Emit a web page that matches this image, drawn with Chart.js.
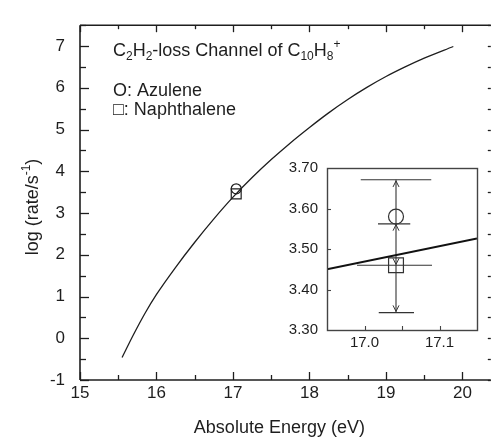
<!DOCTYPE html>
<html><head><meta charset="utf-8">
<script src="https://cdn.jsdelivr.net/npm/chart.js@4"></script>
<style>
html,body{margin:0;padding:0;background:#fff;}
#wrap{position:relative;width:499px;height:442px;overflow:hidden;}
#main{position:absolute;left:0;top:0;}
#inset{position:absolute;left:270px;top:150px;}
</style></head><body>
<div id="wrap"><canvas id="main" width="499" height="442"></canvas><canvas id="inset" width="220" height="210"></canvas></div>
<script>
// ---------- data ----------
const curveEnergy  = [15.55, 15.70, 15.85, 16.00, 16.25, 16.50, 16.75, 17.00, 17.25, 17.50, 17.75, 18.00, 18.25, 18.50, 18.75, 19.00, 19.25, 19.50, 19.88];
const curveLogRate = [-0.46, 0.09, 0.60, 1.05, 1.70, 2.30, 2.86, 3.38, 3.85, 4.28, 4.68, 5.05, 5.40, 5.72, 6.01, 6.27, 6.50, 6.71, 6.99];
const azuleneEnergy = [17.042];
const azuleneLogRate = [3.58];
const naphthaleneEnergy = [17.042];
const naphthaleneLogRate = [3.46];
const xTickValues = [15, 16, 17, 18, 19, 20];
const xTickLabels = ['15', '16', '17', '18', '19', '20'];
const yTickValues = [-1, 0, 1, 2, 3, 4, 5, 6, 7];
const yTickLabels = ['-1', '0', '1', '2', '3', '4', '5', '6', '7'];

// inset
const insetCurveEnergy = [16.95, 17.15];
const insetCurveLogRate = [3.450, 3.526];
const errorEnergy = [17.042];
const errorSpan = [3.343, 3.671];
const capLevels = [3.671, 3.562, 3.460, 3.343];
const capLeft   = [16.995, 17.018, 16.990, 17.019];
const capRight  = [17.089, 17.061, 17.090, 17.066];
const arrowTips = [3.668, 3.560, 3.462, 3.346];
const arrowDirs = ['up', 'up', 'down', 'down'];
const insetXTickValues = [17.0, 17.1];
const insetXTickLabels = ['17.0', '17.1'];
const insetYTickValues = [3.30, 3.40, 3.50, 3.60, 3.70];
const insetYTickLabels = ['3.30', '3.40', '3.50', '3.60', '3.70'];

const INK = '#1e1e1e';
const FONT = '"Liberation Sans", Arial, Helvetica, sans-serif';
Chart.defaults.font.family = FONT;
Chart.defaults.color = INK;

// rich text helper (sub/superscripts)
function richText(ctx, x, y, parts, size, align) {
  const fontFor = p => ((p.sub || p.sup) ? Math.round(size * 0.68) : size) + 'px ' + FONT;
  let total = 0;
  parts.forEach(p => { ctx.font = fontFor(p); total += ctx.measureText(p.t).width; });
  let cx = align === 'center' ? x - total / 2 : x;
  ctx.textBaseline = 'alphabetic';
  ctx.textAlign = 'left';
  parts.forEach(p => {
    ctx.font = fontFor(p);
    const dy = p.sub ? size * 0.22 : (p.sup ? -size * 0.42 : 0);
    ctx.fillText(p.t, cx, y + dy);
    cx += ctx.measureText(p.t).width;
  });
}
function seg(ctx, x0, y0, x1, y1) { ctx.beginPath(); ctx.moveTo(x0, y0); ctx.lineTo(x1, y1); ctx.stroke(); }

const mainDecor = {
  id: 'mainDecor',
  afterDraw(chart) {
    const ctx = chart.ctx, a = chart.chartArea, xs = chart.scales.x, ys = chart.scales.y;
    ctx.save();
    ctx.strokeStyle = INK;
    ctx.lineWidth = 1.6;
    seg(ctx, a.left, a.top, a.right, a.top);
    seg(ctx, a.left, a.top, a.left, a.bottom);
    seg(ctx, a.left, a.bottom, a.right, a.bottom);
    ctx.lineWidth = 1.3;
    for (let v = xs.min; v <= xs.max + 1e-9; v += 0.5) {
      const px = Math.round(xs.getPixelForValue(v)) + 0.5;
      const major = Math.abs(v - Math.round(v)) < 1e-6;
      seg(ctx, px, a.bottom, px, a.bottom - (major ? 8 : 5));
      seg(ctx, px, a.top, px, a.top + (major ? 7 : 4));
    }
    for (let v = ys.min; v <= ys.max + 1e-9; v += 0.5) {
      const py = Math.round(ys.getPixelForValue(v)) + 0.5;
      const major = Math.abs(v - Math.round(v)) < 1e-6;
      seg(ctx, a.left, py, a.left + (major ? 9 : 6), py);
      seg(ctx, a.right, py, a.right - 3, py);
    }
    ctx.fillStyle = INK;
    // annotation texts
    richText(ctx, 113, 56, [{t:'C'},{t:'2',sub:1},{t:'H'},{t:'2',sub:1},{t:'-loss Channel of C'},{t:'10',sub:1},{t:'H'},{t:'8',sub:1},{t:'+',sup:1}], 18, 'left');
    richText(ctx, 113, 96, [{t:'O: Azulene'}], 18, 'left');
    richText(ctx, 113, 115, [{t:'\u25A1: Naphthalene'}], 18, 'left');
    // axis titles
    richText(ctx, (a.left + a.right) / 2 - 6, 433, [{t:'Absolute Energy (eV)'}], 18, 'center');
    ctx.save();
    ctx.translate(38, 207);
    ctx.rotate(-Math.PI / 2);
    richText(ctx, 0, 0, [{t:'log (rate/s'},{t:'-1',sup:1},{t:')'}], 18, 'center');
    ctx.restore();
    ctx.restore();
  }
};

new Chart(document.getElementById('main'), {
  type: 'scatter',
  data: {
    datasets: [
      { data: curveEnergy.map((x, i) => ({x, y: curveLogRate[i]})), showLine: true, borderColor: INK, borderWidth: 1.3, pointRadius: 0, cubicInterpolationMode: 'monotone', fill: false },
      { data: azuleneEnergy.map((x, i) => ({x, y: azuleneLogRate[i]})), pointStyle: 'circle', pointRadius: 5, borderColor: INK, borderWidth: 1.2, backgroundColor: 'rgba(0,0,0,0)' },
      { data: naphthaleneEnergy.map((x, i) => ({x, y: naphthaleneLogRate[i]})), pointStyle: 'rect', pointRadius: 7, borderColor: INK, borderWidth: 1.2, backgroundColor: 'rgba(0,0,0,0)' }
    ]
  },
  options: {
    responsive: false, animation: false, devicePixelRatio: 1,
    layout: { padding: { top: 11, right: 0, left: 0, bottom: 0 } },
    plugins: { legend: { display: false }, tooltip: { enabled: false } },
    scales: {
      x: {
        type: 'linear', min: 15, max: 20.37,
        afterFit: s => { s.height = 62; },
        afterBuildTicks: s => { s.ticks = xTickValues.map(v => ({ value: v })); },
        ticks: { callback: (v, i) => xTickLabels[i], font: { size: 17 }, padding: 3, color: INK, maxRotation: 0 },
        grid: { display: false, drawTicks: false }, border: { display: false }
      },
      y: {
        type: 'linear', min: -1, max: 7.5,
        afterFit: s => { s.width = 80; },
        afterBuildTicks: s => { s.ticks = yTickValues.map(v => ({ value: v })); },
        ticks: { callback: (v, i) => yTickLabels[i], font: { size: 17 }, padding: 15, color: INK },
        grid: { display: false, drawTicks: false }, border: { display: false }
      }
    }
  },
  plugins: [mainDecor]
});

const insetDecor = {
  id: 'insetDecor',
  beforeDatasetsDraw(chart) {
    const ctx = chart.ctx, a = chart.chartArea;
    ctx.save(); ctx.fillStyle = '#fff'; ctx.fillRect(a.left, a.top, a.right - a.left, a.bottom - a.top); ctx.restore();
  },
  afterDraw(chart) {
    const ctx = chart.ctx, a = chart.chartArea, xs = chart.scales.x, ys = chart.scales.y;
    ctx.save();
    ctx.strokeStyle = '#444';
    ctx.lineWidth = 1.4;
    ctx.strokeRect(Math.round(a.left) + 0.5, Math.round(a.top) + 0.5, Math.round(a.right - a.left), Math.round(a.bottom - a.top));
    ctx.lineWidth = 1.1;
    for (let v = 17.0; v <= 17.1 + 1e-9; v += 0.05) {
      const px = Math.round(xs.getPixelForValue(v)) + 0.5;
      seg(ctx, px, a.bottom, px, a.bottom - 4);
    }
    for (let v = 3.4; v <= 3.6 + 1e-9; v += 0.1) {
      const py = Math.round(ys.getPixelForValue(v)) + 0.5;
      seg(ctx, a.left, py, a.left + 4, py);
    }
    // arrowheads on error bar
    ctx.strokeStyle = '#333';
    ctx.lineWidth = 1;
    const px = xs.getPixelForValue(errorEnergy[0]);
    arrowTips.forEach((v, i) => {
      const py = ys.getPixelForValue(v);
      const d = arrowDirs[i] === 'up' ? 1 : -1;
      ctx.beginPath();
      ctx.moveTo(px - 3, py + d * 6);
      ctx.lineTo(px, py);
      ctx.lineTo(px + 3, py + d * 6);
      ctx.stroke();
    });
    ctx.restore();
  }
};

const capSets = capLevels.map((y, i) => ({
  data: [{ x: capLeft[i], y }, { x: capRight[i], y }], showLine: true, borderColor: '#333', borderWidth: 1.1, pointRadius: 0
}));

new Chart(document.getElementById('inset'), {
  type: 'scatter',
  data: {
    datasets: [
      { data: insetCurveEnergy.map((x, i) => ({x, y: insetCurveLogRate[i]})), showLine: true, borderColor: '#111', borderWidth: 2, pointRadius: 0 },
      { data: errorSpan.map(y => ({ x: errorEnergy[0], y })), showLine: true, borderColor: '#333', borderWidth: 1.1, pointRadius: 0 },
      ...capSets,
      { data: azuleneEnergy.map((x, i) => ({x, y: azuleneLogRate[i]})), pointStyle: 'circle', pointRadius: 7.5, borderColor: '#333', borderWidth: 1.2, backgroundColor: 'rgba(0,0,0,0)' },
      { data: naphthaleneEnergy.map((x, i) => ({x, y: naphthaleneLogRate[i]})), pointStyle: 'rect', pointRadius: 10.5, borderColor: '#333', borderWidth: 1.2, backgroundColor: 'rgba(0,0,0,0)' }
    ]
  },
  options: {
    responsive: false, animation: false, devicePixelRatio: 1,
    layout: { padding: { top: 12, right: 13, left: 0, bottom: 0 } },
    plugins: { legend: { display: false }, tooltip: { enabled: false } },
    scales: {
      x: {
        type: 'linear', min: 16.95, max: 17.15,
        afterFit: s => { s.height = 30; },
        afterBuildTicks: s => { s.ticks = insetXTickValues.map(v => ({ value: v })); },
        ticks: { callback: (v, i) => insetXTickLabels[i], font: { size: 15 }, padding: 4, color: INK, maxRotation: 0 },
        grid: { display: false, drawTicks: false }, border: { display: false }
      },
      y: {
        type: 'linear', min: 3.30, max: 3.70,
        afterFit: s => { s.width = 57; },
        afterBuildTicks: s => { s.ticks = insetYTickValues.map(v => ({ value: v })); },
        ticks: { callback: (v, i) => insetYTickLabels[i], font: { size: 15 }, padding: 9, color: INK },
        grid: { display: false, drawTicks: false }, border: { display: false }
      }
    }
  },
  plugins: [insetDecor]
});
</script>
</body></html>
